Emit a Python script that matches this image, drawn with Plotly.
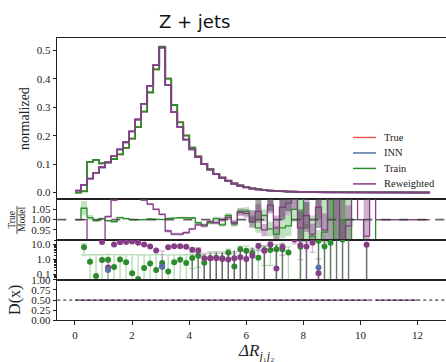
import numpy as np
import plotly.graph_objects as go

# ---------------- data ----------------
N_BINS = 59
X_MAX = 12.43
edges = np.linspace(0, X_MAX, N_BINS + 1)
centers = 0.5 * (edges[:-1] + edges[1:])

train_vals = [0.000, 0.004, 0.108, 0.115, 0.103, 0.106, 0.118, 0.134, 0.157, 0.190,
              0.230, 0.285, 0.352, 0.433, 0.513, 0.401, 0.308, 0.247, 0.200, 0.158,
              0.127, 0.101, 0.082, 0.066, 0.052, 0.042, 0.032, 0.025, 0.019, 0.015,
              0.012, 0.009, 0.007, 0.0055, 0.0045, 0.0036, 0.003, 0.0024, 0.002, 0.0016,
              0.0013, 0.0011, 0.0009, 0.0008, 0.0006, 0.0005, 0.0004, 0.0004, 0.0003, 0.0002,
              0.0002, 0.0001, 0.0, 0.0, 0.0, 0.0, 0.0, 0.0, 0.0]
true_vals = [0.000, 0.005, 0.108, 0.115, 0.103, 0.106, 0.118, 0.134, 0.157, 0.190,
             0.230, 0.285, 0.353, 0.433, 0.512, 0.401, 0.308, 0.248, 0.201, 0.158,
             0.127, 0.101, 0.082, 0.066, 0.052, 0.042, 0.032, 0.025, 0.019, 0.015,
             0.012, 0.009, 0.007, 0.0055, 0.0045, 0.0036, 0.003, 0.0024, 0.002, 0.0016,
             0.0013, 0.0011, 0.0009, 0.0008, 0.0006, 0.0005, 0.0004, 0.0004, 0.0003, 0.0002,
             0.0002, 0.0001, 0.0, 0.0, 0.0, 0.0, 0.0, 0.0, 0.0]
rew_vals = [0.007, 0.027, 0.049, 0.069, 0.089, 0.106, 0.128, 0.152, 0.177, 0.215,
            0.257, 0.312, 0.375, 0.448, 0.510, 0.378, 0.283, 0.231, 0.186, 0.152,
            0.125, 0.100, 0.081, 0.065, 0.052, 0.041, 0.031, 0.024, 0.018, 0.014,
            0.011, 0.009, 0.007, 0.0055, 0.0045, 0.0036, 0.003, 0.0024, 0.002, 0.0016,
            0.0013, 0.0011, 0.0009, 0.0008, 0.0006, 0.0005, 0.0004, 0.0004, 0.0003, 0.0003,
            0.0002, 0.0002, 0.0001, 0.0001, 0.0001, 0.0001, 0.0001, 0.0001, 0.0001]
inn_vals = list(rew_vals)

# ratio panel (True / Model)
ratio_train = [1.0, 1.055, 1.01, 0.995, 1.005, 0.995, 0.99, 1.01, 1.005, 1.0,
               0.997, 1.0, 1.003, 1.0, 1.0, 1.005, 1.008, 1.01, 1.01, 1.008,
               0.985, 0.975, 0.985, 1.005, 0.975, 1.02, 0.98, 1.04, 1.04, 0.99,
               0.96, 1.02, 0.955, 0.93, 0.96, 0.97, 1.05, 1.2, 0.9, 0.92,
               0.85, 0.94, 1.2, 0.8, 1.0, 0.5, 1.0, 1.0, 0.5, 0.5,
               1.0, 1.0, 1.0, 1.0, 1.0, 1.0, 1.0, 1.0, 1.0]
ratio_train_err = [0, 0.035, 0.012, 0.006, 0.006, 0.006, 0.006, 0.005, 0.005, 0.004,
                   0.004, 0.004, 0.003, 0.003, 0.003, 0.003, 0.004, 0.004, 0.004, 0.005,
                   0.006, 0.008, 0.008, 0.01, 0.01, 0.012, 0.015, 0.018, 0.02, 0.025,
                   0.025, 0.03, 0.035, 0.04, 0.05, 0.05, 0.06, 0.2, 0.08, 0.1,
                   0.1, 0.2, 0.2, 0.2, 0.2, 0.6, 0, 0, 0, 0,
                   0, 0, 0, 0, 0, 0, 0, 0, 0]
ratio_rew = [1.0, 1.0, 0.5, 0.5, 0.5, 1.015, 1.095, 1.3, 1.3, 1.3,
             1.3, 1.095, 1.075, 1.05, 1.025, 0.945, 0.93, 0.93, 0.937, 0.955,
             0.975, 0.97, 0.99, 0.985, 1.0, 1.01, 0.985, 1.035, 1.03, 0.99,
             1.04, 0.95, 1.07, 0.96, 1.06, 1.08, 1.1, 0.96, 1.02, 0.93,
             1.06, 0.95, 1.2, 1.1, 0.9, 0.97, 1.3, 1.0, 0.92, 1.5,
             1.0, 1.0, 1.0, 1.0, 1.0, 1.0, 1.0, 1.0, 1.0]
ratio_rew_err = [0, 0, 0.02, 0.02, 0.02, 0.006, 0.006, 0.01, 0.01, 0.01,
                 0.01, 0.005, 0.005, 0.005, 0.005, 0.007, 0.007, 0.007, 0.007, 0.006,
                 0.006, 0.008, 0.008, 0.009, 0.01, 0.012, 0.015, 0.018, 0.02, 0.03,
                 0.035, 0.03, 0.04, 0.06, 0.05, 0.06, 0.05, 0.08, 0.08, 0.05,
                 0.06, 0.08, 0.1, 0.1, 0.1, 0.1, 0.2, 0, 0.2, 0.2,
                 0, 0, 0, 0, 0, 0, 0, 0, 0]
ratio_inn = [None] * 29 + [1.015, 1.04, None, 1.07, None, 1.05, 1.07, None, 0.97, 1.02,
                           None, 1.03, None, 1.0, 1.0, 1.0] + [None] * 15
ratio_inn_err = [0] * 29 + [0.03, 0.055, 0, 0.03, 0, 0.05, 0.03, 0, 0.08, 0.065,
                            0, 0.07, 0, 0.2, 0.2, 0.2] + [0] * 15

# significance panel (log scale)
sig_train = [None, 6.5, 0.7, 0.08, 0.95, 0.97, 0.32, 1.0, 0.67, 0.12,
             0.05, 0.27, 0.55, 0.2, 0.58, 0.16, 0.67, 0.97, 0.58, 1.25,
             1.8, 0.6, 1.2, 1.3, 1.2, 3.0, 0.35, 4.8, 3.8, 2.7,
             1.3, 4.4, 4.4, 4.8, 4.8, 2.9, None, 7.0, None, None,
             18.0, 7.3, 13.0, None, 22.0, None, None, None, None, None,
             None, None, None, None, None, None, None, None, None]
sig_train_err = [0, 4.5, 1.4, 2.0, 1.2, 1.2, 1.8, 1.1, 1.4, 2.0,
                 2.0, 1.8, 1.5, 1.9, 1.5, 1.9, 1.4, 1.1, 1.5, 1.0,
                 1.5, 1.5, 2.0, 2.0, 2.0, 2.0, 2.0, 3.0, 4.0, 3.0,
                 3.0, 4.0, 4.0, 5.0, 5.0, 4.0, 0, 8.0, 0, 0,
                 20, 8.0, 14, 0, 22, 0, 0, 0, 0, 0,
                 0, 0, 0, 0, 0, 0, 0, 0, 0]
sig_rew = [None, None, None, None, 15.0, 0.3, 10.0, 14.0, 15.0, 16.0,
           13.0, 10.0, 7.5, 4.0, 0.33, 6.5, 7.7, 7.6, 7.0, 4.5,
           4.0, 1.2, 1.2, 1.2, 1.1, 1.0, 1.2, 1.4, 1.1, 1.8,
           8.0, 3.8, 10.0, 0.25, 6.9, None, 21.0, 9.0, 7.3, 13.0,
           0.12, None, None, None, None, None, None, None, 9.5, None,
           None, None, None, None, None, None, None, None, None]
sig_rew_err = [0, 0, 0, 0, 0, 0.4, 0, 0, 0, 0,
               0, 0, 0, 0, 3.5, 0, 0, 0, 0, 1.5,
               2.0, 1.5, 1.5, 1.5, 1.5, 1.5, 2.0, 2.5, 2.5, 3.0,
               4.0, 4.0, 5.0, 4.0, 5.0, 0, 10, 8.0, 8.0, 10,
               1.0, 0, 0, 0, 0, 0, 0, 0, 9.5, 0,
               0, 0, 0, 0, 0, 0, 0, 0, 0]
sig_inn = [None] * 5 + [0.2] + [None] * 8 + [0.35] + [None] * 25 + [0.29] + [None] * 18
sig_inn_hi = [None] * 19 + [1.8, 3.5, 2.0, 2.5, 2.8, 3.0, 3.5, 4.0, 4.5, 5.0,
                            6.0, None, 7.0, None, 10.0, 12.0, None, None, 20.0, 20.0,
                            None, 22.0, 22.0, 22.0, 22.0, 22.0, 22.0, None, None, 9.5,
                            None] + [None] * 9

# discriminator panel
d_rew = [0.5] * 49 + [None, 0.498, 0.497, 0.496, 0.494, 0.495, 0.497, 0.498, None, None]

# ---------------- style ----------------
C_TRUE = "#ee5a5f"
C_INN = "#5472a8"
C_TRAIN = "#2a8c2a"
C_REW = "#853d85"
SERIF = "Liberation Serif"

XD = [57.3 / 446, 1.0]
def ydom(top_px, bot_px):
    return [1 - bot_px / 362, 1 - top_px / 362]

fig = go.Figure()

def step_xy(vals):
    xs, ys = [], []
    prev = False
    for k, v in enumerate(vals):
        if v is None:
            if prev:
                xs.append(None); ys.append(None)
            prev = False
            continue
        xs += [edges[k], edges[k + 1]]
        ys += [v, v]
        prev = True
    return xs, ys

def band_xy(vals, errs):
    xs, ys = [], []
    for k, v in enumerate(vals):
        if v is None or not errs[k]:
            continue
        lo, hi = v - errs[k], v + errs[k]
        xs += [edges[k], edges[k + 1], edges[k + 1], edges[k], edges[k], None]
        ys += [lo, lo, hi, hi, lo, None]
    return xs, ys

# --- top panel histograms ---
for vals, col in [(true_vals, C_TRUE), (inn_vals, C_INN), (train_vals, C_TRAIN), (rew_vals, C_REW)]:
    xs, ys = step_xy(vals)
    fig.add_trace(go.Scatter(x=xs, y=ys, mode="lines", line=dict(color=col, width=1.8),
                             xaxis="x", yaxis="y", showlegend=False))

# --- ratio panel ---
for vals, errs, fillc in [(ratio_train, ratio_train_err, "rgba(42,160,42,0.30)"),
                          (ratio_rew, ratio_rew_err, "rgba(133,61,133,0.40)"),
                          (ratio_inn, ratio_inn_err, "rgba(70,70,70,0.5)")]:
    bx, by = band_xy(vals, errs)
    fig.add_trace(go.Scatter(x=bx, y=by, mode="lines", fill="toself", fillcolor=fillc,
                             line=dict(width=0), xaxis="x2", yaxis="y2", showlegend=False,
                             hoverinfo="skip"))
for vals, col in [(ratio_train, C_TRAIN), (ratio_rew, C_REW)]:
    xs, ys = step_xy(vals)
    fig.add_trace(go.Scatter(x=xs, y=ys, mode="lines", line=dict(color=col, width=1.3),
                             xaxis="x2", yaxis="y2", showlegend=False))

# --- significance panel ---
def err_arrays(vals, errs):
    plus, minus = [], []
    for v, e in zip(vals, errs):
        if v is None:
            plus.append(0); minus.append(0)
        else:
            plus.append(e)
            minus.append(v - max(v - e, 1e-3) if e else 0)
    return plus, minus

gx, gy = [], []
for c, hi in zip(centers, sig_inn_hi):
    if hi is not None:
        gx += [c, c, None]
        gy += [1e-3, hi, None]
fig.add_trace(go.Scatter(x=gx, y=gy, mode="lines", line=dict(color="rgba(90,90,90,0.85)", width=1.4),
                         xaxis="x3", yaxis="y3", showlegend=False, hoverinfo="skip"))

for vals, errs, col, ecol in [(sig_train, sig_train_err, C_TRAIN, "rgba(42,150,42,0.35)"),
                              (sig_rew, sig_rew_err, C_REW, "rgba(133,61,133,0.35)")]:
    p, m = err_arrays(vals, errs)
    fig.add_trace(go.Scatter(x=centers, y=vals, mode="markers",
                             marker=dict(color=col, size=6),
                             error_y=dict(type="data", array=p, arrayminus=m, color=ecol,
                                          thickness=1.3, width=3),
                             xaxis="x3", yaxis="y3", showlegend=False))
fig.add_trace(go.Scatter(x=centers, y=sig_inn, mode="markers", marker=dict(color=C_INN, size=6),
                         xaxis="x3", yaxis="y3", showlegend=False))

# --- discriminator panel ---
xs, ys = step_xy(d_rew)
fig.add_trace(go.Scatter(x=xs, y=ys, mode="lines", line=dict(color=C_REW, width=1.3),
                         xaxis="x4", yaxis="y4", showlegend=False))

# ---------------- layout ----------------
axis_common = dict(showline=True, linecolor="#222", linewidth=1.2, mirror=True,
                   showgrid=False, zeroline=False, range=[-0.62, 13.0], domain=XD,
                   ticks="", showticklabels=False)
ytick = dict(showgrid=False, zeroline=False, showline=True, linecolor="#222", linewidth=1.2,
             ticks="outside", ticklen=3.5, tickwidth=1, tickcolor="#222",
             tickfont=dict(family=SERIF, size=11, color="#222"))

fig.update_layout(
    width=446, height=362, margin=dict(l=0, r=0, t=0, b=0),
    paper_bgcolor="white", plot_bgcolor="white", showlegend=False,
    xaxis=dict(anchor="y", **axis_common),
    xaxis2=dict(anchor="y2", matches="x", **axis_common),
    xaxis3=dict(anchor="y3", matches="x", **axis_common),
    xaxis4=dict(anchor="y4", matches="x", **{**axis_common, "ticks": "outside",
                "showticklabels": True, "ticklen": 4, "tickcolor": "#222",
                "ticklabelstandoff": 0,
                "tickvals": [0, 2, 4, 6, 8, 10, 12],
                "tickfont": dict(family=SERIF, size=11, color="#222")}),
    yaxis=dict(anchor="x", domain=ydom(33.3, 200), range=[-0.024, 0.543],
               tickvals=[0, 0.1, 0.2, 0.3, 0.4, 0.5],
               ticktext=["0.0", "0.1", "0.2", "0.3", "0.4", "0.5"], **ytick),
    yaxis2=dict(anchor="x2", domain=ydom(200, 241.7), range=[0.903, 1.098],
                tickvals=[0.95, 1.0, 1.05], ticktext=["0.95", "1.00", "1.05"], **ytick),
    yaxis3=dict(anchor="x3", domain=ydom(241.7, 283.3), type="log",
                range=[np.log10(0.044), np.log10(21)],
                tickvals=[0.1, 1, 10], ticktext=["0.1", "1.0", "10.0"],
                minor=dict(ticks="outside", ticklen=2, tickcolor="#222",
                           tickvals=[0.05, 0.06, 0.07, 0.08, 0.09, 0.2, 0.3, 0.4, 0.5, 0.6,
                                     0.7, 0.8, 0.9, 2, 3, 4, 5, 6, 7, 8, 9, 20]),
                **ytick),
    yaxis4=dict(anchor="x4", domain=ydom(283.3, 325), range=[0, 1],
                tickvals=[0, 0.25, 0.5, 0.75, 1.0],
                ticktext=["0.00", "0.25", "0.50", "0.75", "1.00"], **ytick),
)

# reference lines and shading
fig.add_shape(type="rect", xref="x3 domain", yref="y3", x0=0, x1=1,
              y0=np.log10(0.01), y1=0, fillcolor="#ededed", line_width=0, layer="below")
fig.add_shape(type="line", xref="x3 domain", yref="y3", x0=0, x1=1, y0=0, y1=0,
              line=dict(color="#666", width=0.9, dash="dot"), layer="below")
fig.add_shape(type="line", xref="x2 domain", yref="y2", x0=0, x1=1, y0=1, y1=1,
              line=dict(color="rgba(60,60,60,0.8)", width=1.6, dash="dash"))
fig.add_shape(type="line", xref="x4 domain", yref="y4", x0=0, x1=1, y0=0.5, y1=0.5,
              line=dict(color="#111", width=1, dash="dot"))

# manual legend
legend_items = [("True", C_TRUE), ("INN", C_INN), ("Train", C_TRAIN), ("Reweighted", C_REW)]
for i, (name, col) in enumerate(legend_items):
    ypx = 136 + 16 * i
    fig.add_shape(type="line", xref="paper", yref="paper", x0=353 / 446, x1=376 / 446,
                  y0=1 - ypx / 362, y1=1 - ypx / 362, line=dict(color=col, width=1.5))
    fig.add_annotation(text=name, xref="paper", yref="paper", x=382 / 446, y=1 - ypx / 362,
                       xanchor="left", yanchor="middle", showarrow=False,
                       font=dict(family=SERIF, size=10.5, color="#222"))

# titles and axis labels
fig.add_annotation(text="Z + jets", xref="paper", yref="paper", x=194 / 446, y=1 - 16 / 362,
                   xanchor="center", yanchor="middle", showarrow=False,
                   font=dict(family="DejaVu Sans", size=18, color="#111"))
fig.add_annotation(text="normalized", xref="paper", yref="paper", x=24 / 446, y=1 - 117 / 362,
                   textangle=-90, xanchor="center", yanchor="middle", showarrow=False,
                   font=dict(family=SERIF, size=14, color="#222"))
fig.add_annotation(text="True", xref="paper", yref="paper", x=12 / 446, y=1 - 221 / 362,
                   textangle=-90, xanchor="center", yanchor="middle", showarrow=False,
                   font=dict(family=SERIF, size=9.5, color="#222"))
fig.add_annotation(text="Model", xref="paper", yref="paper", x=22 / 446, y=1 - 221 / 362,
                   textangle=-90, xanchor="center", yanchor="middle", showarrow=False,
                   font=dict(family=SERIF, size=9.5, color="#222"))
fig.add_shape(type="line", xref="paper", yref="paper", x0=17 / 446, x1=17 / 446,
              y0=1 - 207 / 362, y1=1 - 236 / 362, line=dict(color="#222", width=0.8))
fig.add_annotation(text="D(x)", xref="paper", yref="paper", x=15 / 446, y=1 - 304 / 362,
                   textangle=-90, xanchor="center", yanchor="middle", showarrow=False,
                   font=dict(family=SERIF, size=16, color="#222"))
fig.add_annotation(text="<i>ΔR</i><sub><i>j</i>₁<i>j</i>₂</sub>", xref="paper", yref="paper",
                   x=256 / 446, y=-9 / 362, xanchor="center", yanchor="bottom",
                   showarrow=False, font=dict(family=SERIF, size=17, color="#222"))

fig.write_html("out.html")
